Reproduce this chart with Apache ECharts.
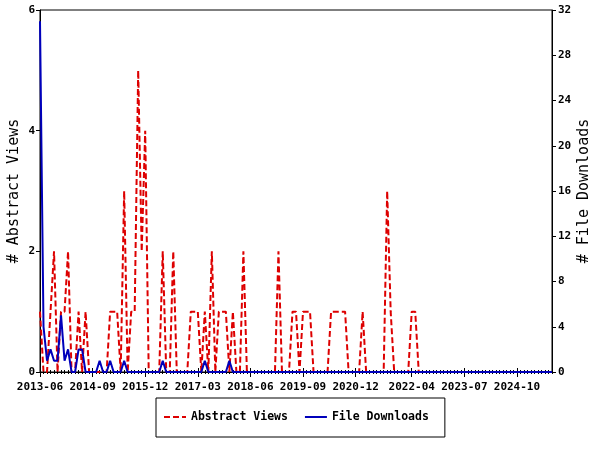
<!DOCTYPE html>
<html><head><meta charset="utf-8">
<script src="https://cdn.jsdelivr.net/npm/echarts@6/dist/echarts.min.js"></script>
<style>html,body{margin:0;padding:0;background:#fff}#c{width:600px;height:450px}</style>
</head><body><div id="c"></div>
<script>
// Monthly categories, 2013-06 .. 2025-08
const months = [
 '2013-06','2013-07','2013-08','2013-09','2013-10','2013-11','2013-12',
 '2014-01','2014-02','2014-03','2014-04','2014-05','2014-06','2014-07','2014-08','2014-09','2014-10','2014-11','2014-12',
 '2015-01','2015-02','2015-03','2015-04','2015-05','2015-06','2015-07','2015-08','2015-09','2015-10','2015-11','2015-12',
 '2016-01','2016-02','2016-03','2016-04','2016-05','2016-06','2016-07','2016-08','2016-09','2016-10','2016-11','2016-12',
 '2017-01','2017-02','2017-03','2017-04','2017-05','2017-06','2017-07','2017-08','2017-09','2017-10','2017-11','2017-12',
 '2018-01','2018-02','2018-03','2018-04','2018-05','2018-06','2018-07','2018-08','2018-09','2018-10','2018-11','2018-12',
 '2019-01','2019-02','2019-03','2019-04','2019-05','2019-06','2019-07','2019-08','2019-09','2019-10','2019-11','2019-12',
 '2020-01','2020-02','2020-03','2020-04','2020-05','2020-06','2020-07','2020-08','2020-09','2020-10','2020-11','2020-12',
 '2021-01','2021-02','2021-03','2021-04','2021-05','2021-06','2021-07','2021-08','2021-09','2021-10','2021-11','2021-12',
 '2022-01','2022-02','2022-03','2022-04','2022-05','2022-06','2022-07','2022-08','2022-09','2022-10','2022-11','2022-12',
 '2023-01','2023-02','2023-03','2023-04','2023-05','2023-06','2023-07','2023-08','2023-09','2023-10','2023-11','2023-12',
 '2024-01','2024-02','2024-03','2024-04','2024-05','2024-06','2024-07','2024-08','2024-09','2024-10','2024-11','2024-12',
 '2025-01','2025-02','2025-03','2025-04','2025-05','2025-06','2025-07','2025-08'
];
const tickLabels = ['2013-06','2014-09','2015-12','2017-03','2018-06','2019-09','2020-12','2022-04','2023-07','2024-10'];

// Abstract Views (left axis), one value per month
const abstractViews = [
 1,0,0,1,2,0,1,1,2,0,0,1,
 0,1,0,0,0,0,0,0,1,1,1,0,
 3,0,1,1,5,2,4,0,0,0,0,2,
 0,0,2,0,0,0,0,1,1,1,0,1,
 0,2,0,1,1,1,0,1,0,0,2,0,
 0,0,0,0,0,0,0,0,2,0,0,0,
 1,1,0,1,1,1,0,0,0,0,0,1,
 1,1,1,1,0,0,0,0,1,0,0,0,
 0,0,0,3,1,0,0,0,0,0,1,1,
 0,0,0,0,0,0,0,0,0,0,0,0,
 0,0,0,0,0,0,0,0,0,0,0,0,
 0,0,0,0,0,0,0,0,0,0,0,0,
 0,0,0
];
// File Downloads (right axis), one value per month
const fileDownloads = [
 31,4,1,2,1,1,5,1,2,0,0,2,
 2,0,0,0,0,1,0,0,1,0,0,0,
 1,0,0,0,0,0,0,0,0,0,0,1,
 0,0,0,0,0,0,0,0,0,0,0,1,
 0,0,0,0,0,0,1,0,0,0,0,0,
 0,0,0,0,0,0,0,0,0,0,0,0,
 0,0,0,0,0,0,0,0,0,0,0,0,
 0,0,0,0,0,0,0,0,0,0,0,0,
 0,0,0,0,0,0,0,0,0,0,0,0,
 0,0,0,0,0,0,0,0,0,0,0,0,
 0,0,0,0,0,0,0,0,0,0,0,0,
 0,0,0,0,0,0,0,0,0,0,0,0,
 0,0,0
];

const font = 'DejaVu Sans Mono';
const majorSet = new Set(tickLabels);
const isMajor = (i, v) => majorSet.has(v);
const blk = {color:'#000', width:1};

function tickAxis(len, inside, intervalFn) {
  return {
    type:'category', data:months, boundaryGap:false, position:'bottom', offset:0,
    axisLine:{show:false}, axisLabel:{show:false}, splitLine:{show:false},
    axisTick:{show:true, interval:intervalFn, inside:inside, length:len, lineStyle:blk}
  };
}

const chart = echarts.init(document.getElementById('c'));
chart.setOption({
  animation:false,
  backgroundColor:'#fff',
  grid:{left:40, right:48, top:10, bottom:78, show:true, borderColor:'#000', borderWidth:1,
        backgroundColor:'#fff', containLabel:false, outerBoundsMode:'none'},
  legend:{
    left:156, top:398, orient:'horizontal',
    borderColor:'#000', borderWidth:1, padding:[13,16,14,7],
    itemGap:16, itemWidth:22, itemHeight:14,
    itemStyle:{opacity:0},
    textStyle:{fontFamily:font, fontSize:11.5, fontWeight:'bold', color:'#000'},
    data:['Abstract Views','File Downloads']
  },
  xAxis:[
    {
      type:'category', data:months, boundaryGap:false, position:'bottom',
      axisLine:{show:true, lineStyle:blk},
      axisTick:{show:true, interval:0, length:2, lineStyle:blk},
      axisLabel:{interval:isMajor, fontFamily:font, fontSize:11, fontWeight:'bold', color:'#000', margin:10},
      splitLine:{show:false}
    },
    tickAxis(2, true, 0),
    tickAxis(5, false, isMajor),
    tickAxis(4, true, isMajor)
  ],
  yAxis:[
    {
      type:'value', min:0, max:6, interval:2, position:'left',
      name:'# Abstract Views', nameLocation:'middle', nameRotate:90, nameGap:18, nameMoveOverlap:false,
      nameTextStyle:{fontFamily:font, fontSize:15, color:'#000'},
      axisLine:{show:true, lineStyle:blk},
      axisTick:{show:true, length:4, lineStyle:blk},
      axisLabel:{fontFamily:font, fontSize:11, fontWeight:'bold', color:'#000', margin:5},
      splitLine:{show:false}
    },
    {
      type:'value', min:0, max:32, interval:4, position:'right',
      name:'# File Downloads', nameLocation:'middle', nameRotate:90, nameGap:25, nameMoveOverlap:false,
      nameTextStyle:{fontFamily:font, fontSize:15, color:'#000'},
      axisLine:{show:true, lineStyle:blk},
      axisTick:{show:true, length:4, lineStyle:blk},
      axisLabel:{fontFamily:font, fontSize:11, fontWeight:'bold', color:'#000', margin:6},
      splitLine:{show:false}
    }
  ],
  series:[
    {
      name:'Abstract Views', type:'line', xAxisIndex:0, yAxisIndex:0, data:abstractViews,
      symbol:'none', lineStyle:{color:'#dd0000', width:2, type:[6,3]}, itemStyle:{color:'#dd0000'}
    },
    {
      name:'File Downloads', type:'line', xAxisIndex:0, yAxisIndex:1, data:fileDownloads,
      symbol:'none', lineStyle:{color:'#0000bb', width:2}, itemStyle:{color:'#0000bb'}
    }
  ]
});
</script>
</body></html>
